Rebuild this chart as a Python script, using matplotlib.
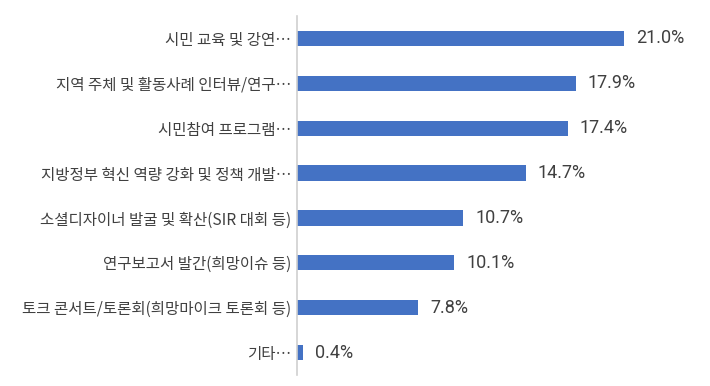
import matplotlib
matplotlib.use("Agg")
import matplotlib.pyplot as plt

plt.rcParams['font.family'] = ['Noto Sans CJK KR', 'DejaVu Sans']

categories = [
    "시민 교육 및 강연…",
    "지역 주체 및 활동사례 인터뷰/연구…",
    "시민참여 프로그램…",
    "지방정부 혁신 역량 강화 및 정책 개발…",
    "소셜디자이너 발굴 및 확산(SIR 대회 등)",
    "연구보고서 발간(희망이슈 등)",
    "토크 콘서트/토론회(희망마이크 토론회 등)",
    "기타…",
]
values = [21.0, 17.9, 17.4, 14.7, 10.7, 10.1, 7.8, 0.4]
value_labels = ["21.0%", "17.9%", "17.4%", "14.7%", "10.7%", "10.1%", "7.8%", "0.4%"]

fig = plt.figure(figsize=(7.1, 3.86), dpi=100)
ax = fig.add_axes([297/710, 1-375/386, (700-297)/710, (375-16)/386])

ypos = list(range(len(categories)))
bars = ax.barh(ypos, values, height=0.34, color="#4472C4")
ax.set_ylim(len(categories)-0.5, -0.5)
ax.set_xlim(0, 25.9)
ax.set_yticks(ypos)
ax.set_yticklabels(categories, fontsize=11.2, color="#404040")
ax.tick_params(axis='y', length=0, pad=4)
ax.set_xticks([])
for s in ['top', 'right', 'bottom']:
    ax.spines[s].set_visible(False)
ax.spines['left'].set_color("#D0D0D0")
ax.spines['left'].set_linewidth(1.2)

for b, lab in zip(bars, value_labels):
    ax.annotate(lab, (b.get_width(), b.get_y()+b.get_height()/2),
                xytext=(12, 0), textcoords='offset pixels',
                va='center', ha='left', fontsize=13, color="#404040",
                family=['Roboto', 'DejaVu Sans'])

fig.savefig("out.png", dpi=100)
